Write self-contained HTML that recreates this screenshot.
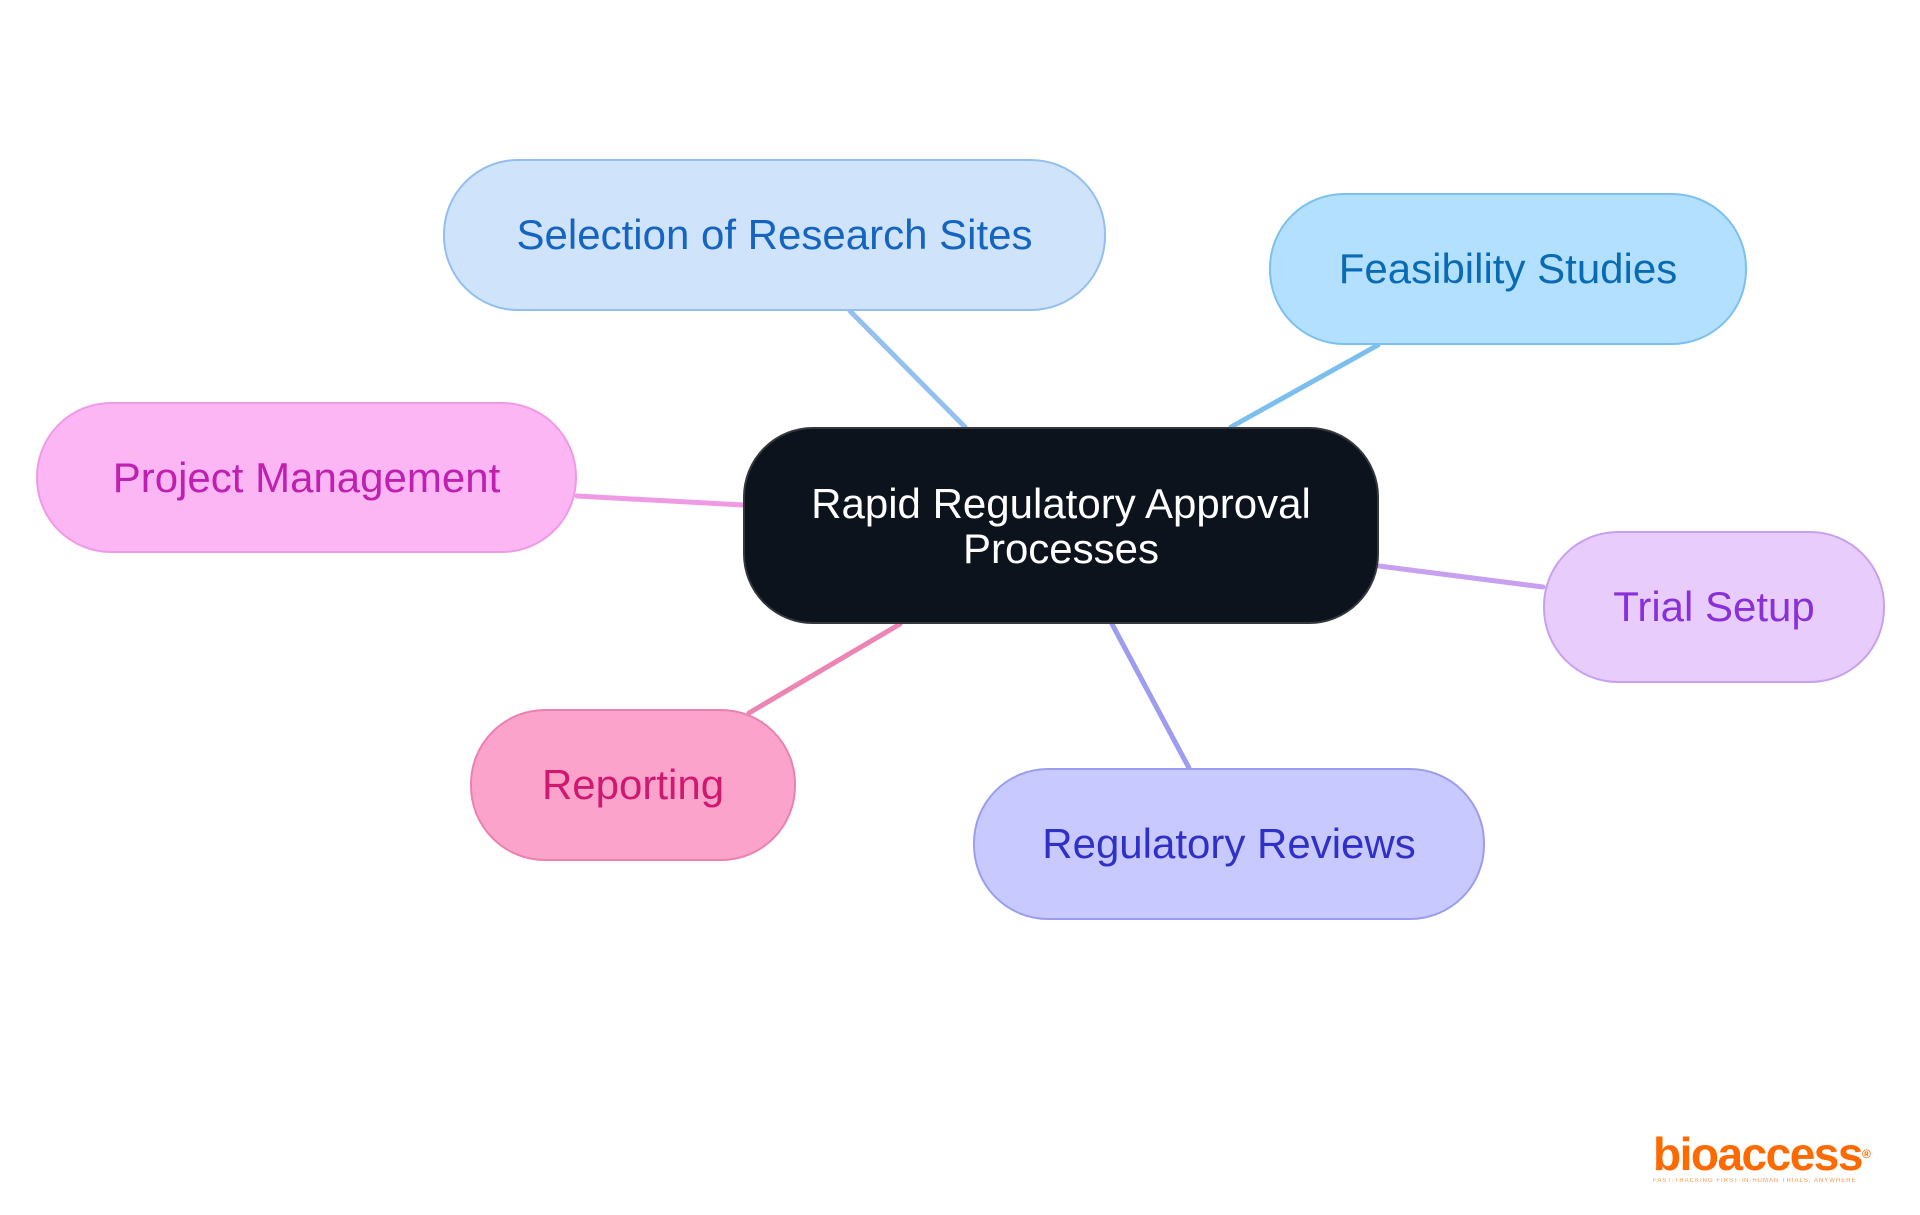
<!DOCTYPE html>
<html><head><meta charset="utf-8"><style>
html,body{margin:0;padding:0;background:#fff;}
body{width:1920px;height:1215px;position:relative;overflow:hidden;font-family:"Liberation Sans",sans-serif;}
.n{position:absolute;box-sizing:border-box;border-radius:75px;display:flex;align-items:center;justify-content:center;text-align:center;font-size:42px;border:2.5px solid;letter-spacing:0px;}
svg{position:absolute;left:0;top:0;}
</style></head><body>
<svg width="1920" height="1215">
<g stroke-width="5" stroke-linecap="round">
<line x1="850" y1="311" x2="965" y2="427" stroke="#93c0ee"/>
<line x1="1378" y1="345" x2="1231" y2="427" stroke="#7bbff0"/>
<line x1="577" y1="496" x2="743" y2="505" stroke="#f09ae6"/>
<line x1="1379" y1="566" x2="1543" y2="587" stroke="#c8a0f0"/>
<line x1="900" y1="624" x2="749" y2="713" stroke="#ec84b4"/>
<line x1="1112" y1="624" x2="1189" y2="768" stroke="#9c9cf0"/>
</g>
</svg>
<div class="n" style="left:443px;top:159px;width:663px;height:152px;background:#cfe3fb;border-color:#93bff0;color:#1565c0;">Selection of Research Sites</div>
<div class="n" style="left:1269px;top:193px;width:478px;height:152px;background:#b3e0fe;border-color:#7bc0f0;color:#0a6bb5;">Feasibility Studies</div>
<div class="n" style="left:36px;top:402px;width:541px;height:151px;background:#fcb6f4;border-color:#f09ae6;color:#c020b0;">Project Management</div>
<div class="n" style="left:743px;top:427px;width:636px;height:197px;background:#0d131c;border-color:#34373c;color:#fff;border-radius:70px;line-height:45px;">Rapid Regulatory Approval<br>Processes</div>
<div class="n" style="left:1543px;top:531px;width:342px;height:152px;background:#e8ccfc;border-color:#c8a0f0;color:#8a30d8;">Trial Setup</div>
<div class="n" style="left:470px;top:709px;width:326px;height:152px;background:#fca3cc;border-color:#ec80b0;color:#d01870;">Reporting</div>
<div class="n" style="left:973px;top:768px;width:512px;height:152px;background:#c8caff;border-color:#9c9cf0;color:#3030c8;">Regulatory Reviews</div>
<div style="position:absolute;left:1653px;top:1130px;width:220px;color:#ff6a00;">
<div style="font-size:46px;font-weight:bold;letter-spacing:-1.5px;line-height:48px;">bioaccess<sup style="font-size:12px;vertical-align:top;">®</sup></div>
<div style="font-size:6px;letter-spacing:1px;white-space:nowrap;opacity:.7;">FAST-TRACKING FIRST-IN-HUMAN TRIALS, ANYWHERE</div>
</div>
</body></html>
